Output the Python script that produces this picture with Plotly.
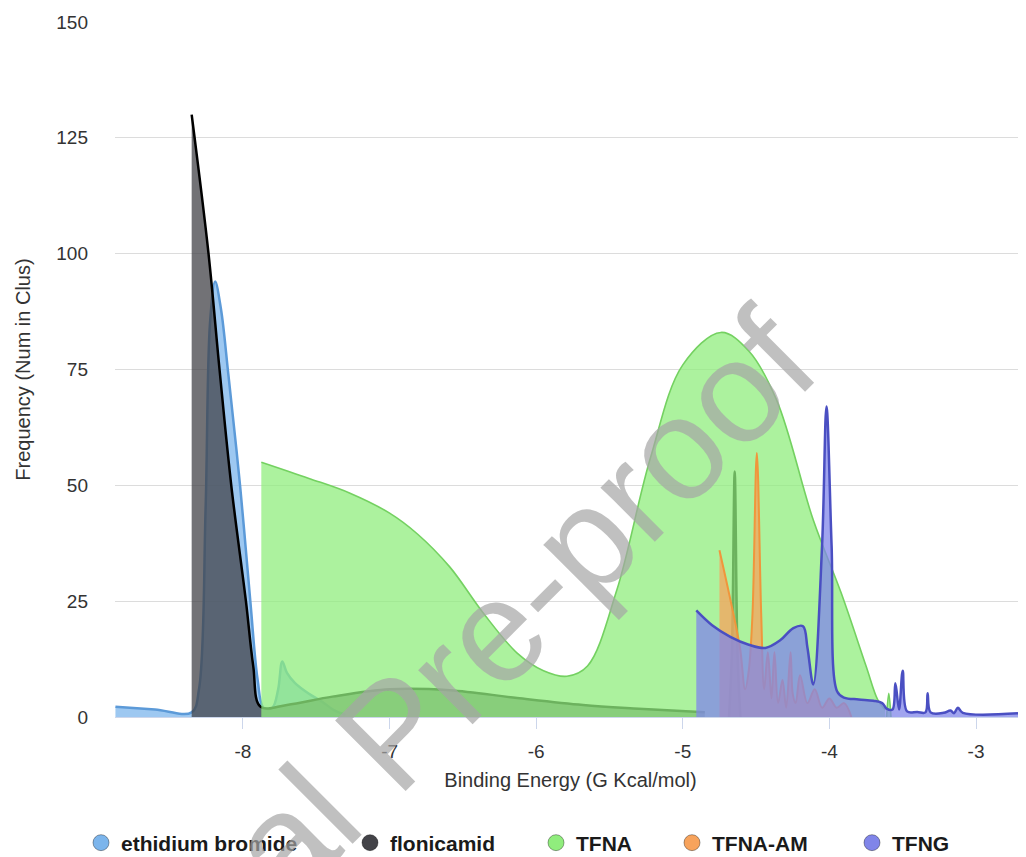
import plotly.graph_objects as go

# ---------------- data ----------------
eth_x = [-8.87, -8.60, -8.35, -8.30, -8.255, -8.225, -8.19, -8.15, -8.10, -8.02, -7.95, -7.90, -7.86,
         -7.80, -7.76, -7.732, -7.70, -7.645, -7.55, -7.46, -7.38, -7.30]
eth_y = [2.2, 1.6, 1.0, 6, 45, 85, 94, 88, 74, 50, 25, 8, 2,
         2.0, 6, 12, 9.5, 7.3, 5.0, 3.3, 1.5, 0.5]

flo_x = [-8.35, -8.235, -8.16, -8.08, -7.98, -7.93, -7.88, -7.70, -7.39, -7.0, -6.59, -6.13, -5.68, -5.30, -4.85]
flo_y = [130, 100, 75, 50, 25, 11, 2.2, 2.6, 4.4, 6.0, 5.8, 4.1, 2.6, 1.8, 1.0]
flo_spike_x = [-4.685, -4.665, -4.646, -4.627, -4.607]
flo_spike_y = [0, 14, 53, 14, 0]

tfna_x = [-7.875, -7.55, -7.27, -7.0, -6.81, -6.59, -6.36, -6.13, -5.95, -5.79, -5.65, -5.45, -5.22,
          -5.0, -4.74, -4.55, -4.36, -4.11, -3.92, -3.75, -3.67, -3.62]
tfna_y = [55, 51.5, 48.3, 44, 39.5, 32.4, 22.4, 13.8, 10, 8.8, 11, 27.4, 56,
          76, 83, 79, 68.4, 42.5, 26.8, 11, 3.7, 1.5]
tfna_spike_x = [-3.61, -3.595, -3.58]
tfna_spike_y = [0, 5.1, 0]

am_x = [-4.75, -4.68, -4.61, -4.575, -4.55, -4.525, -4.495, -4.465, -4.445, -4.42, -4.395, -4.375, -4.35,
        -4.32, -4.295, -4.265, -4.25, -4.23, -4.20, -4.15, -4.10, -4.05, -4.00, -3.95, -3.90, -3.85]
am_y = [36, 26, 15, 6, 10, 22, 57, 22, 6, 14, 4, 14, 3,
        8, 2, 14, 5, 3, 9, 3, 6, 2, 4, 2, 3, 0]

tfng_x = [-4.908, -4.80, -4.676, -4.55, -4.437, -4.334, -4.246, -4.18, -4.15, -4.11, -4.05, -4.02, -3.985,
          -3.947, -3.90, -3.80, -3.70, -3.64, -3.61, -3.57, -3.55, -3.525, -3.50, -3.47, -3.40, -3.345,
          -3.33, -3.31, -3.22, -3.174, -3.15, -3.124, -3.09, -2.66]
tfng_y = [23, 19.8, 17.3, 15.6, 14.9, 16.6, 19.2, 19.6, 15, 7, 37, 67, 37,
          5.5, 4.2, 3.8, 3.5, 3.0, 1.8, 1.6, 7.3, 1.6, 10, 1.2, 1.1, 1.0,
          5.1, 1.0, 0.9, 1.4, 0.8, 2.0, 0.9, 0.9]

series_names = ["ethidium bromide", "flonicamid", "TFNA", "TFNA-AM", "TFNG"]
x_ticks = [-8, -7, -6, -5, -4, -3]
y_ticks = [0, 25, 50, 75, 100, 125, 150]

# ---------------- styling ----------------
fills = {
    "ethidium bromide": "rgba(124,181,236,0.75)",
    "flonicamid": "rgba(67,67,72,0.75)",
    "TFNA": "rgba(144,237,125,0.75)",
    "TFNA-AM": "rgba(247,163,92,0.75)",
    "TFNG": "rgba(128,133,233,0.75)",
}
lines = {
    "ethidium bromide": "#5c9ad8",
    "flonicamid": "#000000",
    "TFNA": "#74d161",
    "TFNA-AM": "#f0963c",
    "TFNG": "#4a4fc2",
}
widths = {"ethidium bromide": 2.5, "flonicamid": 2.5, "TFNA": 1.6, "TFNA-AM": 2, "TFNG": 2.5}
markers = {
    "ethidium bromide": "#7cb5ec",
    "flonicamid": "#434348",
    "TFNA": "#90ed7d",
    "TFNA-AM": "#f7a35c",
    "TFNG": "#8085e9",
}

FONT = "Liberation Sans, Arial, sans-serif"
fig = go.Figure()


def add_area(name, xs, ys):
    fig.add_trace(go.Scatter(
        x=xs, y=ys, mode="lines", name=name, showlegend=False,
        line=dict(color=lines[name], width=widths[name], shape="spline", smoothing=1),
        fill="tozeroy", fillcolor=fills[name], hoverinfo="x+y+name",
    ))


add_area("ethidium bromide", eth_x, eth_y)
add_area("flonicamid", flo_x, flo_y)
add_area("flonicamid", flo_spike_x, flo_spike_y)
add_area("TFNA", tfna_x, tfna_y)
add_area("TFNA", tfna_spike_x, tfna_spike_y)
add_area("TFNA-AM", am_x, am_y)
add_area("TFNG", tfng_x, tfng_y)

# plot area in page pixels (page body adds an 8px offset)
FIG_W, FIG_H = 1026, 900
plot_left, plot_top, plot_w, plot_h = 115, 22, 911, 695
text_starts = [122, 391, 577, 713, 893]
legend_ids = ["legend", "legend2", "legend3", "legend4", "legend5"]
legend_layout = {}
for name, lid, tx in zip(series_names, legend_ids, text_starts):
    fig.add_trace(go.Scatter(
        x=[-20], y=[-20], mode="markers", name=name, legend=lid, showlegend=True,
        marker=dict(symbol="circle", size=16, color=markers[name],
                    line=dict(color="rgba(0,0,0,0.35)", width=1)),
        hoverinfo="skip",
    ))
    legend_layout[lid] = dict(
        x=(tx - 41 - plot_left) / plot_w, xanchor="left",
        y=(plot_top + plot_h - 843) / plot_h, yanchor="middle",
        orientation="h", bgcolor="rgba(0,0,0,0)", borderwidth=0,
        font=dict(family=FONT, size=21, color="#1a1a1a", weight="bold"),
        itemsizing="trace",
    )

# watermark
fig.add_annotation(
    text="Journal Pre-proof", xref="paper", yref="paper",
    x=(393 - plot_left) / plot_w, y=(plot_top + plot_h - 733) / plot_h,
    xanchor="center", yanchor="middle",
    textangle=-45, showarrow=False,
    font=dict(family=FONT, size=145, color="rgba(165,165,165,0.7)"),
)

fig.update_layout(
    width=FIG_W, height=FIG_H,
    margin=dict(l=plot_left - 8, r=8, t=plot_top - 8, b=FIG_H - (plot_top + plot_h - 8)),
    paper_bgcolor="white", plot_bgcolor="white",
    font=dict(family=FONT, color="#333333"),
    **legend_layout,
)

fig.update_xaxes(
    range=[-8.873, -2.659], tickvals=x_ticks, ticktext=[str(v) for v in x_ticks],
    showgrid=False, zeroline=False, showline=True, linecolor="#ccd6eb", linewidth=1,
    ticks="outside", ticklen=11, tickcolor="#ccd6eb", tickwidth=1, ticklabelstandoff=6,
    tickfont=dict(size=19, color="#333333"),
    title=dict(text="Binding Energy (G Kcal/mol)", font=dict(size=20, color="#333333"), standoff=12),
    automargin=False,
)
fig.update_yaxes(
    range=[0, 150], tickvals=y_ticks, ticktext=[str(v) for v in y_ticks],
    showgrid=True, gridcolor="#dcdcdc", gridwidth=1, zeroline=False, showline=False,
    ticks="", ticklabelstandoff=26,
    tickfont=dict(size=19, color="#333333"),
    title=dict(text="Frequency (Num in Clus)", font=dict(size=20, color="#333333"), standoff=20),
    automargin=False,
)

fig.write_html("out.html")
